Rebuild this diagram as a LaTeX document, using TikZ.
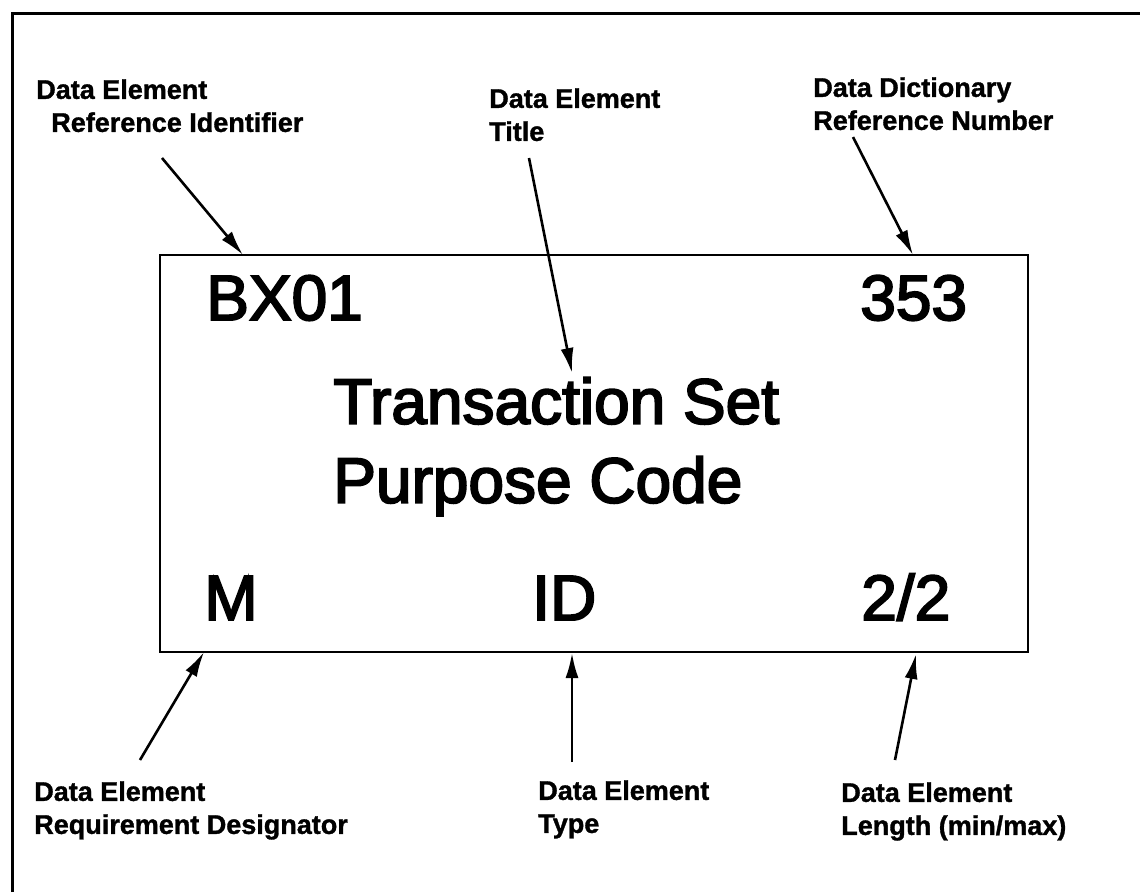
\documentclass[tikz,border=0pt]{standalone}
\usepackage{fontspec}
\setmainfont{Liberation Sans}
\usetikzlibrary{arrows.meta, positioning}
\tikzset{
    >={Latex[length=25pt, width=13pt]},         % long solid heads as in the scan
    ptr/.style={->, line width=2.6pt},          % the pointers onto the box
    lbl/.style={font=\bfseries\fontsize{27}{33}\selectfont\addfontfeature{FakeBold=1.2}, align=left, anchor=north west, inner sep=0pt},
    big/.style={font=\fontsize{64}{79}\selectfont\addfontfeature{FakeBold=3}, anchor=base west, inner sep=0pt},
}

\begin{document}
\begin{tikzpicture}[x=1pt, y=-1pt, line width=2.6pt]
\useasboundingbox (0,0) rectangle (1140,892);

% frame, only top and left edge are in view
\draw[line width=3pt] (12,892) -- (12,13) -- (1140,13);

\node[draw, rectangle, minimum width=868pt, minimum height=397pt, inner sep=0pt] (box) at (594,453.5) {};

\node[big] (bx) at (205,320) {BX01};
\node[big] (num) at (859,320) {353};
\node[big, anchor=north west, align=left] (title) at (332,376) {Transaction Set\\Purpose Code};
\node[big] (req) at (203,620) {M};
\node[big] (type) at (531,620) {ID};
\node[big] (len) at (860,620) {2/2};

\node[lbl] (lref) at (35,78) {Data Element\\\hspace*{15pt}Reference Identifier};
\node[lbl] (ltitle) at (488,87) {Data Element\\Title};
\node[lbl] (ldict) at (812,76) {Data Dictionary\\Reference Number};
\node[lbl] (lreq) at (33,780) {Data Element\\Requirement Designator};
\node[lbl] (ltype) at (537,779) {Data Element\\Type};
\node[lbl] (llen) at (840,781) {Data Element\\Length (min/max)};

% free ends of the pointers
\coordinate (refTail) at (162,158);   \coordinate (refTip) at (243,255);
\coordinate (titleTail) at (529,158); \coordinate (titleTip) at (572,373);
\coordinate (dictTail) at (853,137);  \coordinate (dictTip) at (913,255);
\coordinate (reqTail) at (140,760);   \coordinate (reqTip) at (204,652);
\coordinate (typeTail) at (572,762);  \coordinate (typeTip) at (572,653);
\coordinate (lenTail) at (895,760);   \coordinate (lenTip) at (916,654);

\draw
(refTail) edge[ptr] (refTip)
(titleTail) edge[ptr] (titleTip)
(dictTail) edge[ptr] (dictTip)
(reqTail) edge[ptr] (reqTip)
(typeTail) edge[ptr] (typeTip)
(lenTail) edge[ptr] (lenTip);

\end{tikzpicture}
\end{document}
